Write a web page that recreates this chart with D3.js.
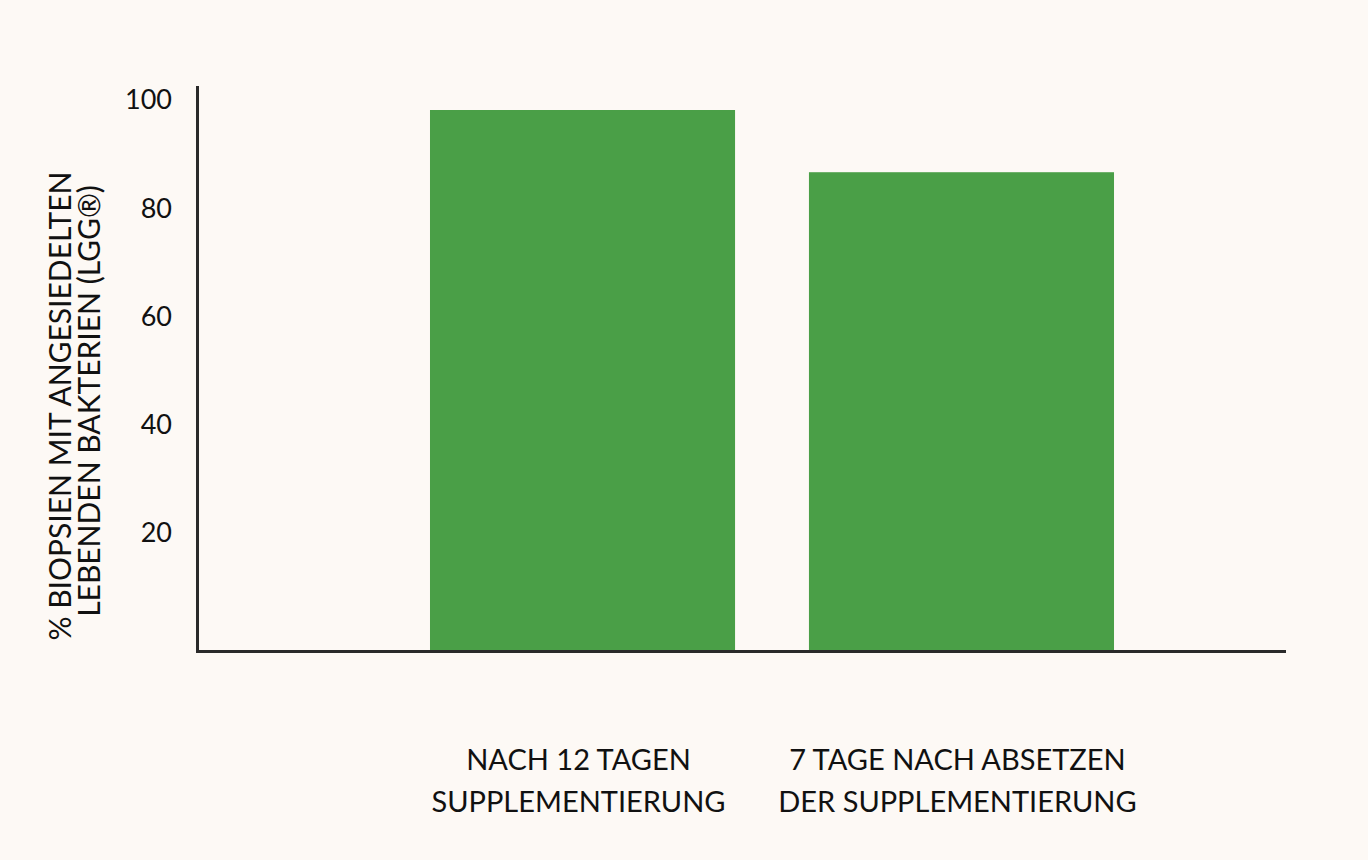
<!DOCTYPE html>
<html>
<head>
<meta charset="utf-8">
<script src="https://cdn.jsdelivr.net/npm/d3@7"></script>
<style>
  html, body { margin: 0; padding: 0; background: #fdf9f5; }
  text { font-family: Lato, "Noto Sans", sans-serif; fill: #111; }
</style>
</head>
<body>
<div id="chart"></div>
<script>
// categories (two lines each) and values
const categories = ["NACH 12 TAGEN|SUPPLEMENTIERUNG", "7 TAGE NACH ABSETZEN|DER SUPPLEMENTIERUNG"];
const values = [100, 88.5];
const yTicks = [20, 40, 60, 80, 100];
const yTitle = ["% BIOPSIEN MIT ANGESIEDELTEN", "LEBENDEN BAKTERIEN (LGG®)"];

const width = 1368, height = 860;

const svg = d3.select("#chart")
  .append("svg")
  .attr("width", width)
  .attr("height", height);

svg.append("rect").attr("width", width).attr("height", height).attr("fill", "#fdf9f5");

// scales
const x = d3.scaleBand()
  .domain(categories)
  .range([393, 1151])
  .paddingInner(0.195)
  .paddingOuter(0.0976);

const y = d3.scaleLinear()
  .domain([0, 100])
  .range([651, 110]);

// bars
svg.selectAll("rect.bar")
  .data(values)
  .join("rect")
  .attr("class", "bar")
  .attr("x", (d, i) => x(categories[i]))
  .attr("y", d => y(d))
  .attr("width", x.bandwidth())
  .attr("height", d => y(0) - y(d))
  .attr("fill", "#4a9f47");

// axes lines
svg.append("line")
  .attr("x1", 197.5).attr("x2", 197.5)
  .attr("y1", 86).attr("y2", 653)
  .attr("stroke", "#2a2a2a").attr("stroke-width", 3);
svg.append("line")
  .attr("x1", 196).attr("x2", 1286)
  .attr("y1", 651.5).attr("y2", 651.5)
  .attr("stroke", "#2a2a2a").attr("stroke-width", 3);

// y tick labels (sitting a bit above the value)
svg.selectAll("text.ytick")
  .data(yTicks)
  .join("text")
  .attr("class", "ytick")
  .attr("x", 172)
  .attr("y", d => y(d) - 10)
  .attr("dy", "0.35em")
  .attr("text-anchor", "end")
  .style("font-size", "27px")
  .text(d => d);

// category labels
categories.forEach((c, i) => {
  const cx = x(c) + x.bandwidth() / 2 - 4;
  c.split("|").forEach((line, j) => {
    svg.append("text")
      .attr("x", cx)
      .attr("y", 760 + j * 42)
      .attr("dy", "0.35em")
      .attr("text-anchor", "middle")
      .style("font-size", "29px")
      .text(line);
  });
});

// y axis title
const tg = svg.append("g")
  .attr("transform", "translate(60, 406) rotate(-90)");
yTitle.forEach((t, j) => {
  tg.append("text")
    .attr("x", j === 0 ? 0 : 5)
    .attr("y", j * 29)
    .attr("dy", "0.35em")
    .attr("text-anchor", "middle")
    .style("font-size", "30px")
    .text(t);
});
</script>
</body>
</html>
